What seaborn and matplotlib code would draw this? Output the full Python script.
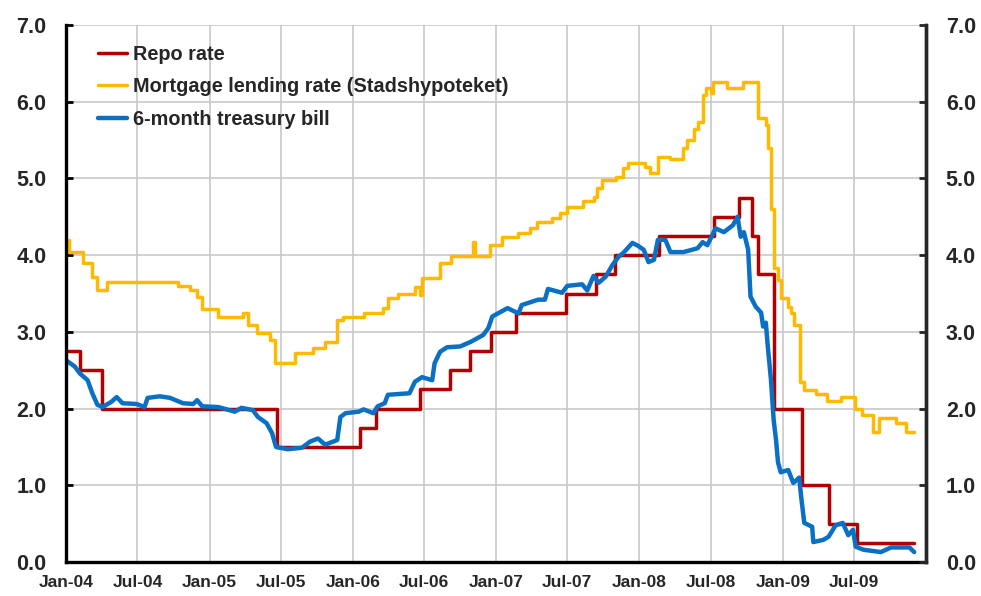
import pandas as pd
import seaborn as sns
import matplotlib.pyplot as plt
import matplotlib.dates as mdates

# Repo rate (step changes, value holds until next date)
repo_dates = ["2004-01-01", "2004-02-06", "2004-04-01", "2005-06-22", "2006-01-20",
              "2006-03-01", "2006-06-21", "2006-09-06", "2006-10-27", "2006-12-20",
              "2007-02-21", "2007-06-27", "2007-09-12", "2007-10-30", "2008-02-20",
              "2008-07-09", "2008-09-10", "2008-10-15", "2008-10-29", "2008-12-10",
              "2009-02-18", "2009-04-29", "2009-07-08", "2009-12-01"]
repo_rate = [2.75, 2.50, 2.00, 1.50, 1.75,
             2.00, 2.25, 2.50, 2.75, 3.00,
             3.25, 3.50, 3.75, 4.00, 4.25,
             4.50, 4.75, 4.25, 3.75, 2.00,
             1.00, 0.50, 0.25, 0.25]

# Mortgage lending rate (Stadshypoteket)
mortgage_dates = ["2004-01-01", "2004-01-08", "2004-02-13", "2004-03-06", "2004-03-19",
                  "2004-04-14", "2004-10-12", "2004-11-13", "2004-11-30", "2004-12-13",
                  "2005-01-23", "2005-03-26", "2005-04-09", "2005-05-01", "2005-06-04",
                  "2005-06-16", "2005-08-07", "2005-09-22", "2005-10-22", "2005-11-22",
                  "2005-12-07", "2006-01-28", "2006-03-19", "2006-04-01", "2006-04-25",
                  "2006-06-08", "2006-06-21", "2006-06-26", "2006-08-11", "2006-09-07",
                  "2006-11-04", "2006-11-08", "2006-12-17", "2007-01-17", "2007-02-25",
                  "2007-03-28", "2007-04-15", "2007-05-22", "2007-06-13", "2007-07-01",
                  "2007-08-10", "2007-09-06", "2007-09-16", "2007-09-28", "2007-11-01",
                  "2007-11-21", "2007-12-04", "2008-01-16", "2008-01-29", "2008-02-16",
                  "2008-03-19", "2008-04-22", "2008-05-02", "2008-05-18", "2008-05-28",
                  "2008-06-10", "2008-06-18", "2008-07-01", "2008-07-07", "2008-08-10",
                  "2008-09-21", "2008-10-28", "2008-11-18", "2008-11-24", "2008-12-01",
                  "2008-12-08", "2008-12-18", "2008-12-26", "2009-01-13", "2009-01-21",
                  "2009-01-28", "2009-02-13", "2009-02-24", "2009-03-25", "2009-04-24",
                  "2009-05-28", "2009-07-04", "2009-07-22", "2009-08-18", "2009-09-03",
                  "2009-10-16", "2009-11-10", "2009-12-01"]
mortgage_rate = [4.20, 4.04, 3.90, 3.72, 3.55,
                 3.65, 3.60, 3.55, 3.45, 3.30,
                 3.20, 3.25, 3.09, 2.98, 2.90,
                 2.59, 2.72, 2.79, 2.87, 3.15,
                 3.19, 3.25, 3.31, 3.44, 3.49,
                 3.59, 3.48, 3.70, 3.90, 3.99,
                 4.17, 3.99, 4.13, 4.24, 4.29,
                 4.35, 4.43, 4.49, 4.55, 4.63,
                 4.70, 4.76, 4.88, 4.98, 5.02,
                 5.14, 5.20, 5.15, 5.07, 5.28,
                 5.25, 5.40, 5.50, 5.64, 5.74,
                 6.09, 6.18, 6.11, 6.26, 6.18,
                 6.26, 5.79, 5.70, 5.40, 4.60,
                 3.83, 3.68, 3.44, 3.33, 3.25,
                 3.09, 2.35, 2.24, 2.19, 2.10,
                 2.15, 2.00, 1.92, 1.70, 1.88,
                 1.81, 1.70, 1.70]

# 6-month treasury bill
tbill_dates = ["2004-01-01", "2004-01-23", "2004-02-05", "2004-02-25", "2004-03-08",
               "2004-03-21", "2004-04-03", "2004-04-26", "2004-05-09", "2004-05-24",
               "2004-06-29", "2004-07-19", "2004-07-27", "2004-08-27", "2004-09-22",
               "2004-10-25", "2004-11-20", "2004-11-30", "2004-12-13", "2005-01-23",
               "2005-03-06", "2005-03-23", "2005-04-21", "2005-05-04", "2005-05-26",
               "2005-06-09", "2005-06-19", "2005-07-19", "2005-08-24", "2005-09-14",
               "2005-10-04", "2005-10-22", "2005-11-22", "2005-11-30", "2005-12-13",
               "2006-01-16", "2006-01-28", "2006-02-22", "2006-03-05", "2006-03-23",
               "2006-03-31", "2006-05-25", "2006-06-08", "2006-06-26", "2006-07-22",
               "2006-07-28", "2006-08-11", "2006-08-29", "2006-10-01", "2006-10-28",
               "2006-11-29", "2006-12-12", "2006-12-22", "2007-01-30", "2007-02-27",
               "2007-03-07", "2007-04-18", "2007-05-05", "2007-05-13", "2007-06-18",
               "2007-07-01", "2007-08-08", "2007-08-21", "2007-09-06", "2007-09-19",
               "2007-10-07", "2007-10-24", "2007-11-09", "2007-11-21", "2007-12-14",
               "2007-12-29", "2008-01-12", "2008-01-24", "2008-02-07", "2008-02-17",
               "2008-03-07", "2008-03-20", "2008-04-22", "2008-05-28", "2008-06-10",
               "2008-06-22", "2008-07-13", "2008-08-03", "2008-08-26", "2008-09-07",
               "2008-09-15", "2008-09-23", "2008-10-04", "2008-10-10", "2008-10-23",
               "2008-11-06", "2008-11-11", "2008-11-18", "2008-11-23", "2008-12-01",
               "2008-12-08", "2008-12-14", "2008-12-19", "2008-12-26", "2009-01-14",
               "2009-01-27", "2009-02-11", "2009-02-16", "2009-02-24", "2009-03-16",
               "2009-03-19", "2009-04-14", "2009-04-27", "2009-05-15", "2009-06-02",
               "2009-06-16", "2009-06-28", "2009-07-05", "2009-07-25", "2009-09-07",
               "2009-10-03", "2009-11-19", "2009-12-01"]
tbill_rate = [2.63, 2.55, 2.46, 2.37, 2.20,
              2.05, 2.02, 2.09, 2.15, 2.07,
              2.06, 2.02, 2.14, 2.16, 2.14,
              2.07, 2.06, 2.11, 2.03, 2.02,
              1.96, 2.01, 1.98, 1.89, 1.81,
              1.68, 1.50, 1.47, 1.49, 1.57,
              1.61, 1.53, 1.59, 1.89, 1.94,
              1.96, 1.99, 1.94, 2.03, 2.07,
              2.18, 2.20, 2.35, 2.41, 2.37,
              2.59, 2.74, 2.80, 2.81, 2.87,
              2.96, 3.05, 3.20, 3.31, 3.24,
              3.35, 3.42, 3.42, 3.56, 3.51,
              3.60, 3.62, 3.54, 3.73, 3.64,
              3.72, 3.87, 3.98, 4.03, 4.16,
              4.12, 4.07, 3.91, 3.94, 4.20,
              4.20, 4.04, 4.04, 4.09, 4.17,
              4.13, 4.35, 4.30, 4.39, 4.50,
              4.24, 4.30, 4.07, 3.46, 3.33,
              3.25, 3.07, 3.12, 2.81, 2.38,
              1.85, 1.59, 1.30, 1.17, 1.20,
              1.03, 1.10, 0.85, 0.51, 0.46,
              0.26, 0.29, 0.33, 0.48, 0.51,
              0.35, 0.42, 0.20, 0.16, 0.13,
              0.19, 0.19, 0.13]

# x tick labels (every half year)
tick_dates = ["2004-01-01", "2004-07-01", "2005-01-01", "2005-07-01", "2006-01-01",
              "2006-07-01", "2007-01-01", "2007-07-01", "2008-01-01", "2008-07-01",
              "2009-01-01", "2009-07-01"]

df_repo = pd.DataFrame({"Date": pd.to_datetime(repo_dates), "Rate": repo_rate})
df_mort = pd.DataFrame({"Date": pd.to_datetime(mortgage_dates), "Rate": mortgage_rate})
df_tbill = pd.DataFrame({"Date": pd.to_datetime(tbill_dates), "Rate": tbill_rate})

sns.set_style("white")
plt.rcParams["font.family"] = ["Liberation Sans", "DejaVu Sans"]
plt.rcParams["font.weight"] = "bold"

fig = plt.figure(figsize=(9.81, 5.96), dpi=100)
ax = fig.add_axes([0.0673, 0.057, 0.877, 0.901])

sns.lineplot(data=df_repo, x="Date", y="Rate", ax=ax, color="#B20000", linewidth=2.5,
             drawstyle="steps-post", estimator=None, label="Repo rate")
sns.lineplot(data=df_mort, x="Date", y="Rate", ax=ax, color="#FFBA00", linewidth=2.5,
             drawstyle="steps-post", estimator=None,
             label="Mortgage lending rate (Stadshypoteket)")
sns.lineplot(data=df_tbill, x="Date", y="Rate", ax=ax, color="#0A70C6", linewidth=3.2,
             estimator=None, label="6-month treasury bill")

ax.set_xlim(pd.Timestamp("2004-01-01"), pd.Timestamp("2010-01-01"))
ax.set_ylim(0, 7)
ax.set_yticks(range(0, 8))
ax.set_yticklabels([f"{v:.1f}" for v in range(0, 8)])
ax.set_xticks(pd.to_datetime(tick_dates))
ax.xaxis.set_major_formatter(mdates.DateFormatter("%b-%y"))
ax.set_xlabel("")
ax.set_ylabel("")

ax.grid(True, color="#C8C8C8", linewidth=1.2)
ax.set_axisbelow(True)
for side in ["left", "bottom", "right"]:
    ax.spines[side].set_color("black")
    ax.spines[side].set_linewidth(2.4)
ax.spines["top"].set_visible(False)
ax.tick_params(axis="both", direction="in", length=5, width=2, color="black")
ax.tick_params(axis="y", labelsize=15.5, pad=14)
ax.tick_params(axis="x", labelsize=12.5, pad=9)

# right-hand axis, same scale
ax2 = ax.twinx()
ax2.set_ylim(0, 7)
ax2.set_yticks(range(0, 8))
ax2.set_yticklabels([f"{v:.1f}" for v in range(0, 8)])
ax2.tick_params(axis="y", direction="in", length=5, width=2, labelsize=15.5, pad=14)
for side in ["top", "left", "bottom"]:
    ax2.spines[side].set_visible(False)
ax2.spines["right"].set_linewidth(2.4)

for lab in ax.get_xticklabels() + ax.get_yticklabels() + ax2.get_yticklabels():
    lab.set_fontweight("bold")

leg = ax.legend(loc="upper left", bbox_to_anchor=(0.028, 0.977), frameon=False,
                prop={"size": 14.3, "weight": "bold"}, handlelength=1.45,
                handletextpad=0.3, labelspacing=0.66, borderaxespad=0)

fig.savefig("out.png", dpi=100)
